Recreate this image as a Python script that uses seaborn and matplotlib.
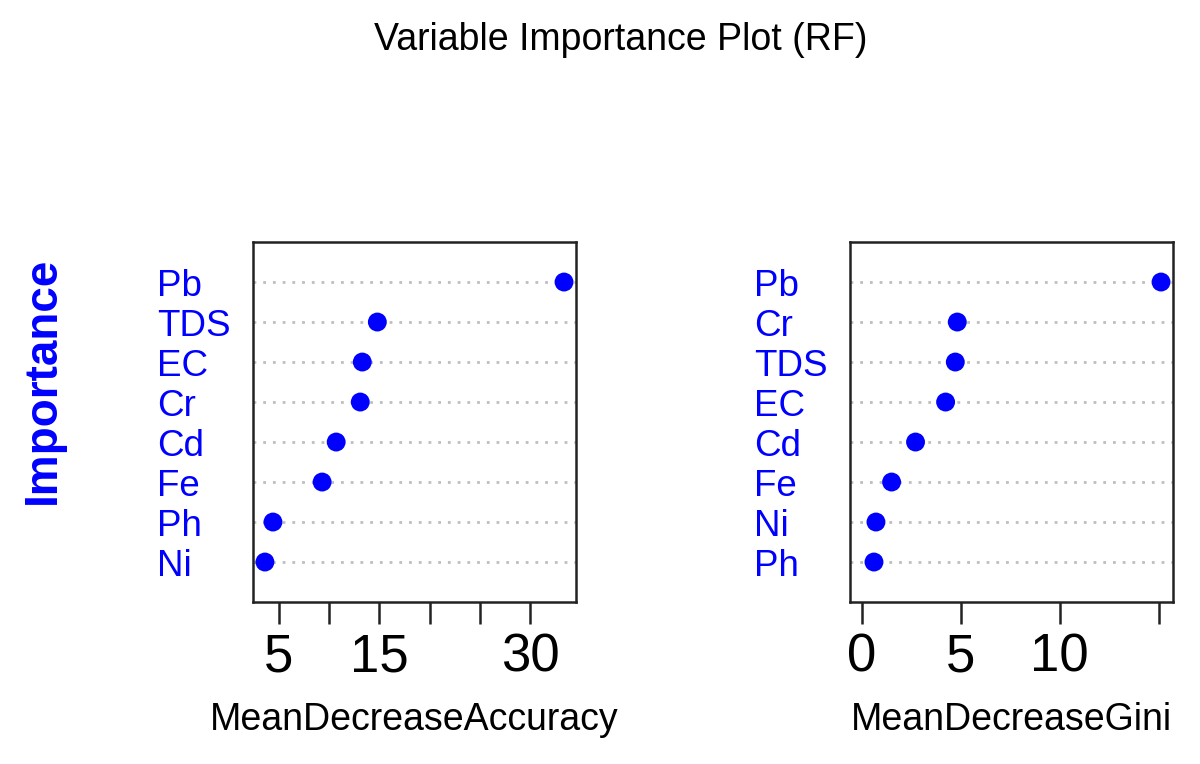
import numpy as np
import pandas as pd
import seaborn as sns
import matplotlib.pyplot as plt

# values, ordered from top row to bottom row
acc_vars = ['Pb', 'TDS', 'EC', 'Cr', 'Cd', 'Fe', 'Ph', 'Ni']
acc_vals = [33.4, 14.8, 13.3, 13.1, 10.7, 9.3, 4.4, 3.6]
gini_vars = ['Pb', 'Cr', 'TDS', 'EC', 'Cd', 'Fe', 'Ni', 'Ph']
gini_vals = [15.12, 4.82, 4.72, 4.23, 2.71, 1.50, 0.71, 0.61]

acc_ticks = [5, 10, 15, 20, 25, 30]
acc_ticklabels = ['5', '', '15', '', '', '30']
gini_ticks = [0, 5, 10, 15]
gini_ticklabels = ['0', '5', '10', '']

sns.set_style('white')
plt.rcParams['font.family'] = ['Liberation Sans', 'DejaVu Sans']
plt.rcParams['text.color'] = 'black'
plt.rcParams['axes.labelcolor'] = 'black'
plt.rcParams['xtick.color'] = 'black'

fig = plt.figure(figsize=(12, 7.64), dpi=100)
ax1 = fig.add_axes([0.2108, 0.2120, 0.2692, 0.4712])
ax2 = fig.add_axes([0.7083, 0.2120, 0.2692, 0.4712])


def dot_panel(ax, names, vals, xmin, ticks, ticklabels, xlabel):
    n = len(names)
    df = pd.DataFrame({'var': names, 'imp': vals, 'pos': np.arange(n, 0, -1)})
    sns.scatterplot(data=df, x='imp', y='pos', color='#0000FF', s=185,
                    edgecolor='none', ax=ax, zorder=3)
    lo, hi = xmin, max(vals)
    pad = 0.04 * (hi - lo)
    ax.set_xlim(lo - pad, hi + pad)
    ax.set_ylim(0, n + 1)
    ax.set_yticks(df['pos'])
    ax.set_yticklabels(df['var'], color='#0000FF', fontsize=26.5, ha='left')
    ax.tick_params(axis='y', length=0, pad=69)
    ax.grid(axis='y', linestyle=(0, (1, 2.5)), color='#bebebe', linewidth=2)
    ax.set_xticks(ticks)
    ax.set_xticklabels(ticklabels, fontsize=38, color='black')
    ax.tick_params(axis='x', direction='out', length=16, width=1.8,
                   color='#222222', pad=6, bottom=True)
    ax.set_xlabel(xlabel, fontsize=27, labelpad=14, color='black')
    ax.set_ylabel('')
    for sp in ax.spines.values():
        sp.set_visible(True)
        sp.set_color('#222222')
        sp.set_linewidth(1.8)


dot_panel(ax1, acc_vars, acc_vals, min(acc_vals), acc_ticks, acc_ticklabels,
          'MeanDecreaseAccuracy')
dot_panel(ax2, gini_vars, gini_vals, 0, gini_ticks, gini_ticklabels,
          'MeanDecreaseGini')

fig.text(0.5175, 1 - 40 / 764, 'Variable Importance Plot (RF)', fontsize=27,
         ha='center', va='center', color='black')
fig.text(43 / 1200, 1 - 380 / 764, 'Importance', fontsize=33, fontweight='bold',
         color='#0000FF', rotation=90, ha='center', va='center')

plt.savefig('out.png', dpi=100)
